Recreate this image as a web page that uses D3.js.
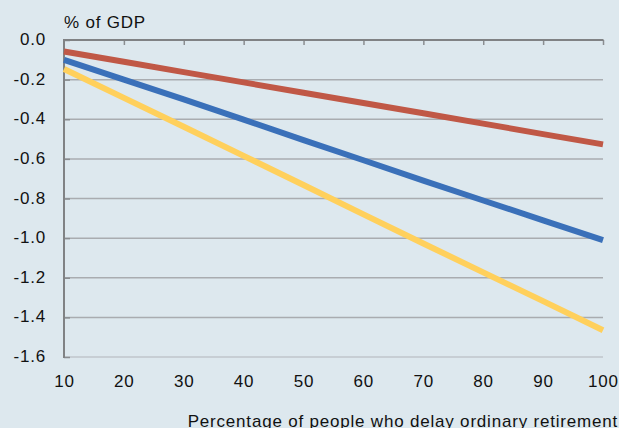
<!DOCTYPE html>
<html>
<head>
<meta charset="utf-8">
<script src="https://cdn.jsdelivr.net/npm/d3@7"></script>
<style>
  html, body { margin: 0; padding: 0; background: #dde8ee; }
  svg { display: block; font-family: "Liberation Sans", Arial, Helvetica, sans-serif; }
  svg text { letter-spacing: 0.8px; }
</style>
</head>
<body>
<svg id="chart" width="619" height="428"></svg>
<script>
// Share of people delaying ordinary retirement (%)
const shares = [10, 20, 30, 40, 50, 60, 70, 80, 90, 100];
// Budget effect, % of GDP, for each scenario
const seriesRed    = [-0.058, -0.110, -0.162, -0.214, -0.266, -0.318, -0.370, -0.422, -0.475, -0.527];
const seriesBlue   = [-0.100, -0.200, -0.300, -0.402, -0.505, -0.607, -0.710, -0.810, -0.910, -1.010];
const seriesYellow = [-0.146, -0.292, -0.438, -0.585, -0.732, -0.880, -1.027, -1.173, -1.318, -1.465];
const yTicks = [0, -0.2, -0.4, -0.6, -0.8, -1.0, -1.2, -1.4, -1.6];
const xTicks = [10, 20, 30, 40, 50, 60, 70, 80, 90, 100];
const yUnitLabel = "% of GDP";
const xTitle = "Percentage of people who delay ordinary retirement";

const svg = d3.select("#chart");
const plotLeft = 64, plotRight = 603, plotTop = 40, plotBottom = 357;
const fontSize = 17;

const x = d3.scaleLinear().domain([10, 100]).range([plotLeft, plotRight]);
const y = d3.scaleLinear().domain([0, -1.6]).range([plotTop, plotBottom]);

// horizontal gridlines
svg.append("g")
  .selectAll("line")
  .data(yTicks.filter(v => v !== 0))
  .join("line")
  .attr("x1", plotLeft).attr("x2", plotRight)
  .attr("y1", d => y(d)).attr("y2", d => y(d))
  .attr("stroke", d => d === -1.6 ? "#bfc6cb" : "#a9acb0")
  .attr("stroke-width", 1.5);

// y axis (left)
const yAxis = d3.axisRight(y).tickValues(yTicks).tickSize(6).tickFormat("");
const gy = svg.append("g").attr("transform", `translate(${plotLeft},0)`).call(yAxis);
gy.select(".domain").remove();
gy.selectAll(".tick line").attr("stroke", "#8a8d90").attr("stroke-width", 1.5);
svg.append("line")
  .attr("x1", plotLeft).attr("x2", plotLeft).attr("y1", plotTop - 1).attr("y2", plotBottom + 1)
  .attr("stroke", "#808284").attr("stroke-width", 2);

// y tick labels
svg.append("g")
  .selectAll("text")
  .data(yTicks)
  .join("text")
  .attr("x", 46)
  .attr("y", d => y(d) + 5)
  .attr("text-anchor", "end")
  .attr("font-size", fontSize)
  .attr("fill", "#111")
  .text(d => d3.format(".1f")(d).replace("−", "-"));

// x axis drawn along the zero line, ticks pointing down
const xAxis = d3.axisBottom(x).tickValues(xTicks.filter(v => v !== 10)).tickSize(5).tickFormat("");
const gx = svg.append("g").attr("transform", `translate(0,${plotTop})`).call(xAxis);
gx.select(".domain").remove();
gx.selectAll(".tick line").attr("stroke", "#8a8d90").attr("stroke-width", 1.5);
svg.append("line")
  .attr("x1", plotLeft - 1).attr("x2", plotRight + 0.5).attr("y1", plotTop).attr("y2", plotTop)
  .attr("stroke", "#808284").attr("stroke-width", 2);

// x tick labels below the plot
svg.append("g")
  .selectAll("text")
  .data(xTicks)
  .join("text")
  .attr("x", d => x(d) + 0.4)
  .attr("y", 387)
  .attr("text-anchor", "middle")
  .attr("font-size", fontSize)
  .attr("fill", "#111")
  .text(d => d);

// series lines
const line = d3.line().x((d, i) => x(shares[i])).y(d => y(d));
const series = [
  { values: seriesRed, color: "#c05846" },
  { values: seriesBlue, color: "#3a70b9" },
  { values: seriesYellow, color: "#ffd05c" }
];
svg.append("g")
  .selectAll("path")
  .data(series)
  .join("path")
  .attr("d", d => line(d.values))
  .attr("fill", "none")
  .attr("stroke", d => d.color)
  .attr("stroke-width", 6);

// unit label and axis title
svg.append("text")
  .attr("x", 64).attr("y", 28)
  .attr("font-size", fontSize)
  .attr("fill", "#111")
  .text(yUnitLabel);

svg.append("text")
  .attr("x", 618).attr("y", 427)
  .attr("text-anchor", "end")
  .attr("font-size", fontSize)
  .attr("fill", "#111")
  .text(xTitle);
</script>
</body>
</html>
